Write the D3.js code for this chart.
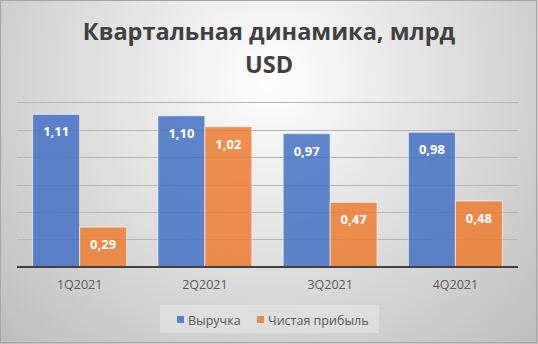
<!DOCTYPE html>
<html><head><meta charset="utf-8">
<script src="https://cdn.jsdelivr.net/npm/d3@7"></script>
<style>html,body{margin:0;padding:0;background:#fff;}svg{display:block;}</style>
</head><body>
<script>
const categories = ["1Q2021","2Q2021","3Q2021","4Q2021"];
const seriesNames = ["Выручка","Чистая прибыль"];
const revenue = [1.11,1.10,0.97,0.98];
const profit = [0.29,1.02,0.47,0.48];
const yTicks = [0,0.2,0.4,0.6,0.8,1.0,1.2];
const colors = ["#4472C4","#ED7D31"];

(function(){
const W=538,H=344;
const svg=d3.select("body").append("svg").attr("width",W).attr("height",H);
const defs=svg.append("defs");
const rg=defs.append("radialGradient").attr("id","bg").attr("gradientUnits","userSpaceOnUse")
  .attr("cx",270).attr("cy",80).attr("r",380);
rg.append("stop").attr("offset","0%").attr("stop-color","#ffffff");
rg.append("stop").attr("offset","100%").attr("stop-color","#bcbcbc");
svg.append("rect").attr("x",0).attr("y",0).attr("width",W).attr("height",H).attr("fill","url(#bg)");
svg.append("rect").attr("x",0.5).attr("y",0.5).attr("width",W-2).attr("height",H-2).attr("fill","none").attr("stroke","#a6a6a6");

const pl=17,pr=518,pt=102,pb=267;
const x=d3.scaleBand().domain(categories).range([pl,pr]).paddingInner(0.25).paddingOuter(0.125);
const y=d3.scaleLinear().domain([0,1.2]).range([pb,pt]);
const xs=d3.scaleBand().domain(seriesNames).range([0,x.bandwidth()]);

svg.append("g").selectAll("line").data(yTicks.filter(d=>d>0)).join("line")
  .attr("x1",pl).attr("x2",pr).attr("y1",d=>Math.round(y(d))+0.5).attr("y2",d=>Math.round(y(d))+0.5)
  .attr("stroke","#b4b4b4").attr("stroke-width",1);

const data=[revenue,profit];
const g=svg.append("g");
data.forEach((vals,si)=>{
  g.selectAll(".b"+si).data(categories).join("rect").attr("class","b"+si)
    .attr("x",c=>x(c)+xs(seriesNames[si]))
    .attr("y",(c,i)=>y(vals[i]))
    .attr("width",xs.bandwidth())
    .attr("height",(c,i)=>pb-y(vals[i]))
    .attr("fill",colors[si]).attr("fill-opacity",0.85)
    .attr("stroke","#ffffff").attr("stroke-opacity",0.6).attr("stroke-width",1);
  g.selectAll(".t"+si).data(categories).join("text").attr("class","t"+si)
    .attr("x",c=>x(c)+xs(seriesNames[si])+xs.bandwidth()/2)
    .attr("y",(c,i)=>y(vals[i])+22)
    .attr("text-anchor","middle")
    .attr("font-family","'Open Sans', sans-serif").attr("font-weight","bold").attr("font-size",13)
    .attr("fill","#ffffff")
    .text((c,i)=>vals[i].toFixed(2).replace(".",","));
});

const xAxis=svg.append("g").attr("transform",`translate(0,${pb})`).call(d3.axisBottom(x).tickSize(0).tickPadding(13));
xAxis.select(".domain").attr("stroke","#404040").attr("stroke-width",2).attr("d",`M${pl},0H${pr}`);
xAxis.selectAll("text").attr("font-family","'Open Sans', sans-serif").attr("font-size",12.5).attr("fill","#595959");

const title=svg.append("text").attr("text-anchor","middle").attr("font-family","'Open Sans', sans-serif")
  .attr("font-weight","bold").attr("font-size",23.5).attr("fill","#404040");
title.append("tspan").attr("x",269).attr("y",40).text("Квартальная динамика, млрд");
title.append("tspan").attr("x",269).attr("y",73).text("USD");

const lg=svg.append("g");
lg.append("rect").attr("x",160).attr("y",305).attr("width",219).attr("height",28).attr("fill","#e2e2e2").attr("fill-opacity",0.7);
const items=[{x:177,tx:188},{x:257,tx:268}];
seriesNames.forEach((n,i)=>{
  lg.append("rect").attr("x",items[i].x).attr("y",316).attr("width",7).attr("height",7).attr("fill",colors[i]).attr("fill-opacity",0.85);
  lg.append("text").attr("x",items[i].tx).attr("y",324.5).attr("font-family","'Open Sans', sans-serif")
    .attr("font-size",12.5).attr("fill","#595959").text(n);
});
})();
</script>
</body></html>
